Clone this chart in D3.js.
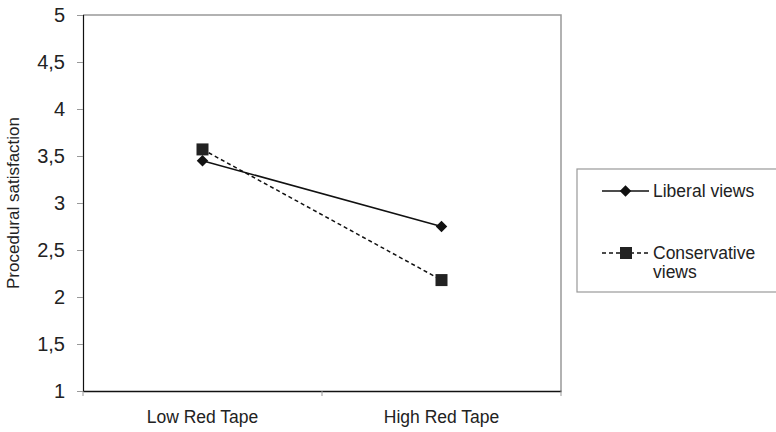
<!DOCTYPE html>
<html lang="en">
<head>
<meta charset="utf-8">
<title>Procedural satisfaction</title>
<script src="https://d3js.org/d3.v7.min.js"></script>
<style>
  body { margin: 0; background: #fff; }
  text { font-family: "Liberation Sans", Arial, sans-serif; fill: #222; }
</style>
</head>
<body>
<script>
// data
var categories = ["Low Red Tape", "High Red Tape"];
var liberal = [3.45, 2.75];
var conservative = [3.57, 2.18];
var yTicks = [1, 1.5, 2, 2.5, 3, 3.5, 4, 4.5, 5];
var seriesNames = ["Liberal views", "Conservative views"];

var width = 776, height = 432;
var mLeft = 83, mRight = 561, mTop = 15, mBottom = 391;

var svg = d3.select("body").append("svg")
    .attr("width", width)
    .attr("height", height);

var x = d3.scaleBand().domain(categories).range([mLeft, mRight]);
var y = d3.scaleLinear().domain([1, 5]).range([mBottom, mTop]);

// frame: gray top/right
svg.append("path")
    .attr("d", "M" + mLeft + "," + mTop + "H" + mRight + "V" + mBottom)
    .attr("fill", "none")
    .attr("stroke", "#999")
    .attr("stroke-width", 1.5);

// y axis
var yAxis = svg.append("g")
    .attr("transform", "translate(" + mLeft + ",0)")
    .call(d3.axisLeft(y).tickValues(yTicks).tickSize(6).tickPadding(12)
        .tickFormat(function(d) { return String(d).replace(".", ","); }));
yAxis.select(".domain").attr("stroke", "#111").attr("stroke-width", 1.2);
yAxis.selectAll(".tick line").attr("stroke", "#999");
yAxis.selectAll("text").attr("font-size", 20).style("font-family", "Liberation Sans, Arial, sans-serif").attr("fill", "#222");

// x axis
var xAxis = svg.append("g")
    .attr("transform", "translate(0," + mBottom + ")")
    .call(d3.axisBottom(x).tickSize(0).tickPadding(20));
xAxis.select(".domain").attr("stroke", "#111").attr("stroke-width", 1.5);
xAxis.selectAll("text").attr("font-size", 17.5).style("font-family", "Liberation Sans, Arial, sans-serif").attr("fill", "#222");
// category boundary ticks
xAxis.selectAll(".bound")
    .data([mLeft, mLeft + x.bandwidth(), mRight])
    .enter().append("line")
    .attr("class", "bound")
    .attr("x1", function(d) { return d; })
    .attr("x2", function(d) { return d; })
    .attr("y1", 0).attr("y2", 5)
    .attr("stroke", "#999");

// y title
svg.append("text")
    .attr("transform", "translate(19," + ((mTop + mBottom) / 2) + ") rotate(-90)")
    .attr("text-anchor", "middle")
    .attr("font-size", 17)
    .text("Procedural satisfaction");

var line = d3.line()
    .x(function(d, i) { return x(categories[i]) + x.bandwidth() / 2; })
    .y(function(d) { return y(d); });

svg.append("path")
    .datum(liberal)
    .attr("d", line)
    .attr("fill", "none")
    .attr("stroke", "#111")
    .attr("stroke-width", 1.5);

svg.append("path")
    .datum(conservative)
    .attr("d", line)
    .attr("fill", "none")
    .attr("stroke", "#111")
    .attr("stroke-width", 1.5)
    .attr("stroke-dasharray", "4,3");

var diamond = d3.symbol().type(d3.symbolDiamond2).size(85);

svg.selectAll(".lib")
    .data(liberal)
    .enter().append("path")
    .attr("class", "lib")
    .attr("d", diamond)
    .attr("transform", function(d, i) {
        return "translate(" + (x(categories[i]) + x.bandwidth() / 2) + "," + y(d) + ")";
    })
    .attr("fill", "#111");

svg.selectAll(".con")
    .data(conservative)
    .enter().append("rect")
    .attr("class", "con")
    .attr("x", function(d, i) { return x(categories[i]) + x.bandwidth() / 2 - 6; })
    .attr("y", function(d) { return y(d) - 6; })
    .attr("width", 12).attr("height", 12)
    .attr("fill", "#222");

// legend
var lg = svg.append("g").attr("transform", "translate(577,169)");
lg.append("rect")
    .attr("width", 210).attr("height", 123)
    .attr("fill", "#fff")
    .attr("stroke", "#999")
    .attr("stroke-width", 1.2);

lg.append("line")
    .attr("x1", 25).attr("x2", 72).attr("y1", 22).attr("y2", 22)
    .attr("stroke", "#111").attr("stroke-width", 1.5);
lg.append("path")
    .attr("d", diamond)
    .attr("transform", "translate(48.5,22)")
    .attr("fill", "#111");
lg.append("text")
    .attr("x", 76).attr("y", 28)
    .attr("font-size", 17.5)
    .text(seriesNames[0]);

lg.append("line")
    .attr("x1", 25).attr("x2", 72).attr("y1", 84).attr("y2", 84)
    .attr("stroke", "#111").attr("stroke-width", 1.5)
    .attr("stroke-dasharray", "4,3");
lg.append("rect")
    .attr("x", 43).attr("y", 78).attr("width", 12).attr("height", 12)
    .attr("fill", "#222");
var ct = lg.append("text")
    .attr("x", 76).attr("y", 90)
    .attr("font-size", 17.5);
ct.append("tspan").attr("x", 76).text("Conservative");
ct.append("tspan").attr("x", 76).attr("dy", 19).text("views");
</script>
</body>
</html>
